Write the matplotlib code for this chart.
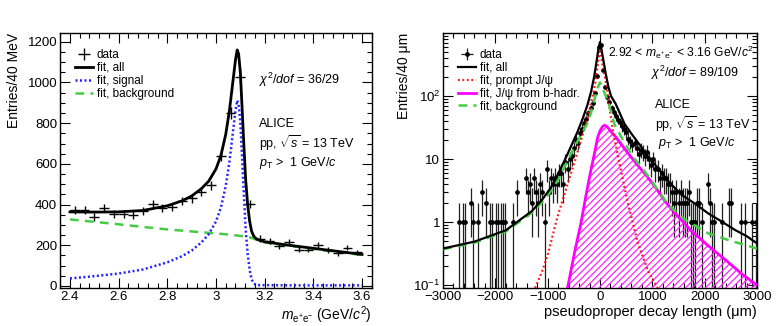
import numpy as np
import matplotlib
matplotlib.use("Agg")
import matplotlib.pyplot as plt
from matplotlib.ticker import MultipleLocator, FixedLocator, FixedFormatter, LogLocator, NullFormatter

plt.rcParams['font.family'] = ['Liberation Sans', 'DejaVu Sans']
plt.rcParams['mathtext.fontset'] = 'custom'
plt.rcParams['mathtext.rm'] = 'Liberation Sans'
plt.rcParams['mathtext.it'] = 'Liberation Sans:italic'
plt.rcParams['mathtext.bf'] = 'Liberation Sans:bold'
plt.rcParams['hatch.linewidth'] = 0.9

# ---- left panel: invariant mass ----
mass_centers = [2.42, 2.46, 2.50, 2.54, 2.58, 2.62, 2.66, 2.70, 2.74, 2.78,
                2.82, 2.86, 2.90, 2.94, 2.98, 3.02, 3.06, 3.10, 3.14, 3.18,
                3.22, 3.26, 3.30, 3.34, 3.38, 3.42, 3.46, 3.50, 3.54, 3.58]
mass_counts = [372, 372, 338, 381, 353, 353, 348, 367, 402, 381,
               389, 418, 430, 462, 494, 640, 848, 1028, 402, 233,
               221, 195, 216, 179, 179, 200, 176, 162, 188, 165]

fit_mass = [2.40, 2.50, 2.60, 2.70, 2.80, 2.86, 2.90, 2.94, 2.97, 3.00,
            3.02, 3.04, 3.055, 3.07, 3.08, 3.087, 3.093, 3.10, 3.107, 3.115,
            3.122, 3.13, 3.138, 3.146, 3.155, 3.165, 3.18, 3.20, 3.30, 3.40,
            3.50, 3.60]
fit_all = [364, 363, 364, 371, 394, 418, 442, 478, 515, 575,
           640, 745, 860, 1010, 1110, 1160, 1140, 1050, 880, 680,
           520, 400, 320, 270, 245, 232, 224, 217, 200, 185,
           170, 155]
fit_sig = [37, 48, 61, 81, 116, 146, 174, 214, 254, 317,
           384, 491, 608, 760, 861, 912, 893, 804, 635, 436,
           277, 159, 81, 34, 12, 5, 4, 4, 3, 3,
           3, 3]
fit_bkg = [327, 315, 303, 290, 278, 272, 268, 264, 261, 258,
           256, 254, 252, 250, 249, 248, 247, 246, 245, 244,
           243, 241, 239, 236, 233, 228, 221, 214, 197, 182,
           167, 152]

# ---- right panel: pseudoproper decay length ----
decay_centers = [-2700, -2620, -2580, -2460, -2420, -2340, -2260, -2180, -2100, -2060,
                 -1980, -1940, -1900, -1860, -1820, -1660, -1580, -1420, -1380, -1340,
                 -1300, -1260, -1220, -1180, -1140, -1100, -1060, -1020, -980, -940,
                 -900, -860, -820, -780, -740, -700, -660, -620, -580, -540,
                 -500, -460, -420, -380, -340, -300, -260, -220, -180, -140,
                 -100, -60, -20, 20, 60, 100, 140, 180, 220, 260,
                 300, 340, 380, 420, 460, 500, 540, 580, 620, 660,
                 700, 740, 780, 820, 860, 900, 940, 980, 1020, 1060,
                 1100, 1140, 1180, 1220, 1260, 1300, 1340, 1380, 1420, 1460,
                 1500, 1540, 1580, 1620, 1660, 1700, 1740, 1780, 1820, 1860,
                 1900, 1940, 2060, 2100, 2140, 2180, 2340, 2460, 2500, 2700,
                 2780, 2900, 2980]
decay_counts = [1, 1, 1, 2, 1, 1, 3, 2, 1, 1,
                1, 1, 1, 1, 1, 1, 3, 5, 3, 4,
                2, 5, 3, 2, 4, 3, 1, 7, 3, 5,
                4, 5, 4, 6, 6, 4, 9, 7, 10, 11,
                15, 20, 18, 26, 30, 37, 44, 53, 65, 78,
                110, 210, 600, 640, 260, 140, 95, 80, 65, 55,
                48, 42, 39, 33, 30, 27, 21, 19, 17, 18,
                15, 12, 14, 13, 11, 13, 10, 8, 10, 7,
                7, 5, 6, 5, 5, 4, 4, 3, 2, 3,
                2, 3, 2, 2, 2, 3, 1, 1, 1, 2,
                2, 1, 4, 2, 1, 1, 1, 2, 2, 1,
                1, 1, 1]

fit_x_all = [-3000, -2400, -1800, -1300, -1100, -940, -800, -620, -430, -330,
             -240, -170, -110, -60, -30, 0, 30, 60, 110, 160,
             210, 300, 470, 620, 790, 950, 1110, 1300, 1560, 1800,
             2070, 2300, 2580, 2800, 3000]
fit_y_all = [0.38, 0.49, 0.74, 1.5, 2.3, 3.5, 5.8, 12, 27, 44,
             72, 118, 205, 380, 560, 720, 540, 390, 225, 140,
             100, 75, 36, 24, 15.5, 10, 7.2, 4.5, 2.7, 2.0,
             1.37, 1.05, 0.75, 0.6, 0.46]

fit_x_bkg = [-3000, -2400, -1800, -1300, -1100, -940, -800, -620, -430, -300,
             -240, -170, -110, -60, 0, 60, 150, 280, 470, 620,
             790, 1000, 1300, 1620, 2070, 2450, 3000]
fit_y_bkg = [0.37, 0.47, 0.71, 1.42, 2.1, 3.1, 4.7, 9.5, 19, 30,
             37, 55, 85, 125, 165, 125, 85, 35, 18, 11,
             7.5, 4.3, 1.9, 1.1, 0.66, 0.52, 0.38]

fit_x_prompt = [-1240, -1100, -1000, -814, -620, -494, -237, -110, -77, -30,
                0, 30, 115, 244, 372, 532, 725, 917, 1100]
fit_y_prompt = [0.09, 0.17, 0.3, 1.2, 4.0, 8.5, 45, 130, 190, 380,
                550, 380, 160, 29, 8.5, 2.0, 0.46, 0.17, 0.09]

fit_x_bhad = [-621, -590, -480, -365, -270, -173, -100, -45, 0, 40,
              83, 130, 200, 308, 500, 692, 900, 1077, 1250, 1429,
              1750, 2070, 2400, 2712, 3000]
fit_y_bhad = [0.09, 0.12, 0.35, 0.95, 2.6, 6.7, 13, 22, 28, 32,
              34.5, 33, 28, 22, 13.5, 8.5, 5.3, 3.4, 2.1, 1.4,
              0.72, 0.42, 0.25, 0.15, 0.1]

W, H = 781, 326
fig = plt.figure(figsize=(W / 100, H / 100), dpi=100)
ax1 = fig.add_axes([60 / W, 1 - 288 / H, 312 / W, 255 / H])
ax2 = fig.add_axes([443 / W, 1 - 288 / H, 314 / W, 255 / H])

for ax in (ax1, ax2):
    ax.tick_params(which='both', direction='in', top=True, right=True, labelsize=9.5, width=0.8)
    ax.tick_params(which='major', length=7, pad=2)
    ax.tick_params(which='minor', length=3.5)
    for s in ax.spines.values():
        s.set_linewidth(1.0)

leg_style = dict(loc='upper left', bbox_to_anchor=(0.048, 0.938), frameon=False, fontsize=8.5,
                 handlelength=1.5, handletextpad=0.35, labelspacing=0.08, borderpad=0, borderaxespad=0)

# left
h_data1 = ax1.errorbar(mass_centers, mass_counts, xerr=0.02, yerr=np.sqrt(mass_counts),
                       fmt='none', ecolor='black', elinewidth=1.0, zorder=3)
h_bkg1, = ax1.plot(fit_mass, fit_bkg, color='#44cc44', lw=1.8, ls=(0, (3.5, 2.5)), zorder=2)
h_sig1, = ax1.plot(fit_mass, fit_sig, color='#2222ff', lw=1.8, ls=(0, (0.8, 1.0)), zorder=2)
h_all1, = ax1.plot(fit_mass, fit_all, color='black', lw=2.0, zorder=4)
ax1.set_xlim(2.359, 3.641)
ax1.set_ylim(-10, 1243)
ax1.xaxis.set_minor_locator(MultipleLocator(0.04))
ax1.yaxis.set_major_locator(MultipleLocator(200))
ax1.yaxis.set_minor_locator(MultipleLocator(50))
ax1.set_xticks([2.4, 2.6, 2.8, 3.0, 3.2, 3.4, 3.6])
ax1.set_xticklabels(['2.4', '2.6', '2.8', '3', '3.2', '3.4', '3.6'])
ax1.set_ylabel('Entries/40 MeV', fontsize=10, loc='top')
ax1.yaxis.set_label_coords(-0.125, 1.0)
ax1.set_xlabel(r'$m_{\rm e^{+}e^{-}}$ (GeV/$c^{2}$)', fontsize=10, loc='right')
ax1.xaxis.set_label_coords(1.0, -0.065)
ax1.legend([h_data1, h_all1, h_sig1, h_bkg1],
           ['data', 'fit, all', 'fit, signal', 'fit, background'], **leg_style)
ax1.text(0.638, 0.816, r'$\chi^{2}/dof$ = 36/29', transform=ax1.transAxes, fontsize=9, va='center')
ax1.text(0.638, 0.643, 'ALICE', transform=ax1.transAxes, fontsize=9, va='center')
ax1.text(0.638, 0.569, r'pp, $\sqrt{s}$ = 13 TeV', transform=ax1.transAxes, fontsize=9, va='center')
ax1.text(0.638, 0.49, r'$p_{\rm T}$ >  1 GeV/$c$', transform=ax1.transAxes, fontsize=9, va='center')

# right
ax2.set_yscale('log')
counts = np.array(decay_counts, dtype=float)
err = np.sqrt(counts)
h_data2 = ax2.errorbar(decay_centers, decay_counts, xerr=20,
                       yerr=[np.minimum(err, counts * 0.999), err],
                       fmt='o', ms=2.4, color='black', ecolor='#222222', elinewidth=0.9, zorder=3)
ax2.fill_between(fit_x_bhad, fit_y_bhad, 1e-3, facecolor='none', edgecolor='#ff22ff',
                 hatch='/////', linewidth=0, zorder=4)
h_bhad, = ax2.plot(fit_x_bhad, fit_y_bhad, color='#ff00ff', lw=2.0, zorder=5)
h_prompt, = ax2.plot(fit_x_prompt, fit_y_prompt, color='#ff1111', lw=1.6, ls=(0, (0.8, 1.2)), zorder=5)
h_bkg2, = ax2.plot(fit_x_bkg, fit_y_bkg, color='#44cc44', lw=1.8, ls=(0, (3.5, 2.5)), zorder=5)
h_all2, = ax2.plot(fit_x_all, fit_y_all, color='black', lw=1.6, zorder=6)
ax2.set_xlim(-3000, 3000)
ax2.set_ylim(0.09, 1000)
ax2.xaxis.set_major_locator(MultipleLocator(1000))
ax2.xaxis.set_minor_locator(MultipleLocator(200))
ax2.yaxis.set_major_locator(FixedLocator([0.1, 1, 10, 100]))
ax2.yaxis.set_major_formatter(FixedFormatter([r'$10^{-1}$', '1', '10', r'$10^{2}$']))
ax2.yaxis.set_minor_locator(LogLocator(base=10, subs=np.arange(2, 10)))
ax2.yaxis.set_minor_formatter(NullFormatter())
ax2.set_ylabel('Entries/40 μm', fontsize=10, loc='top')
ax2.yaxis.set_label_coords(-0.102, 1.0)
ax2.set_xlabel('pseudoproper decay length (μm)', fontsize=10.5, loc='right')
ax2.xaxis.set_label_coords(1.0, -0.065)
ax2.legend([h_data2, h_all2, h_prompt, h_bhad, h_bkg2],
           ['data', 'fit, all', 'fit, prompt J/ψ', 'fit, J/ψ from b-hadr.', 'fit, background'],
           **leg_style)
ax2.text(0.525, 0.925, r'2.92 < $m_{\rm e^{+}e^{-}}$ < 3.16 GeV/$c^{2}$', transform=ax2.transAxes,
         fontsize=8.7, va='center')
ax2.text(0.662, 0.843, r'$\chi^{2}/dof$ = 89/109', transform=ax2.transAxes, fontsize=9, va='center')
ax2.text(0.675, 0.718, 'ALICE', transform=ax2.transAxes, fontsize=9, va='center')
ax2.text(0.675, 0.643, r'pp, $\sqrt{s}$ = 13 TeV', transform=ax2.transAxes, fontsize=9, va='center')
ax2.text(0.685, 0.569, r'$p_{\rm T}$ >  1 GeV/$c$', transform=ax2.transAxes, fontsize=9, va='center')

fig.savefig('out.png', dpi=100)
